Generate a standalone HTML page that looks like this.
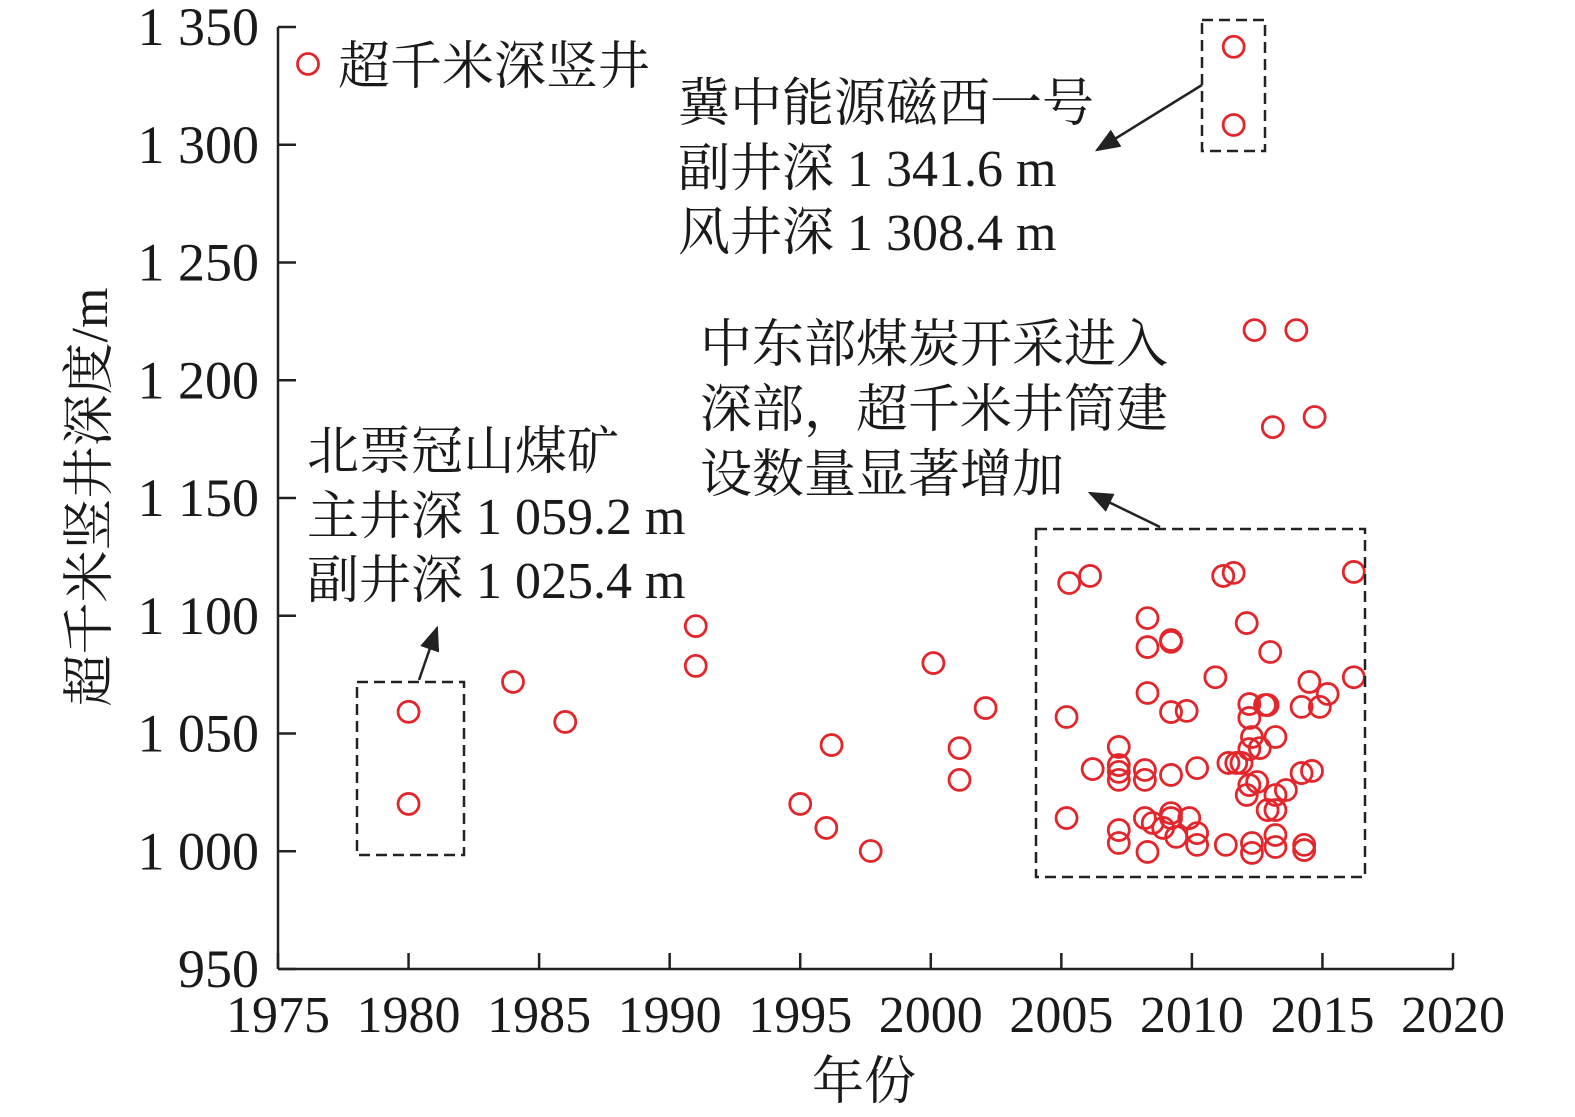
<!DOCTYPE html>
<html><head><meta charset="utf-8"><style>
html,body{margin:0;padding:0;background:#fff;}
svg text{font-family:"Liberation Serif","Noto Serif CJK SC",serif;fill:#1a1a1a;}
</style></head><body>
<svg id="chart" width="1575" height="1112" viewBox="0 0 1575 1112" xmlns="http://www.w3.org/2000/svg">
<g id="axes"></g>
<g id="marks"></g>
<g id="annot">
  <circle cx="308" cy="64" r="10.5" fill="none" stroke="#e2262b" stroke-width="2.8"/>
  <text x="338" y="84" font-size="52">超千米深竖井</text>
  <rect x="1202" y="20" width="63" height="131" fill="none" stroke="#222" stroke-width="2.5" stroke-dasharray="11,6"/>
  <rect x="357" y="682" width="107" height="173" fill="none" stroke="#222" stroke-width="2.5" stroke-dasharray="11,6"/>
  <rect x="1036" y="529" width="329" height="348" fill="none" stroke="#222" stroke-width="2.5" stroke-dasharray="11,6"/>
  <defs><marker id="ah" markerWidth="10" markerHeight="8" refX="9" refY="4" orient="auto"><path d="M0,0 L10,4 L0,8 z" fill="#222"/></marker></defs>
  <line x1="1202" y1="85" x2="1097" y2="150" stroke="#222" stroke-width="2.5" marker-end="url(#ah)"/>
  <line x1="419" y1="680" x2="437" y2="628" stroke="#222" stroke-width="2.5" marker-end="url(#ah)"/>
  <line x1="1160" y1="527" x2="1090" y2="493" stroke="#222" stroke-width="2.5" marker-end="url(#ah)"/>
  <text font-size="52">
    <tspan x="678" y="121">冀中能源磁西一号</tspan>
    <tspan x="678" y="186">副井深 1 341.6 m</tspan>
    <tspan x="678" y="250">风井深 1 308.4 m</tspan>
  </text>
  <text font-size="52">
    <tspan x="700" y="362">中东部煤炭开采进入</tspan>
    <tspan x="700" y="427">深部，超千米井筒建</tspan>
    <tspan x="700" y="492">设数量显著增加</tspan>
  </text>
  <text font-size="52">
    <tspan x="307" y="469">北票冠山煤矿</tspan>
    <tspan x="307" y="534">主井深 1 059.2 m</tspan>
    <tspan x="307" y="598">副井深 1 025.4 m</tspan>
  </text>
</g>
</svg>
<script>
const years = [1980,1980,1984,1986,1991,1991,1995,1996,1996.2,1997.7,2000.1,2001.1,2001.1,2002.1,2011.6,2011.6,2012.4,2014,2013.1,2014.7,
2005.3,2006.1,2011.2,2011.6,2016.2,2008.3,2012.1,2008.3,2009.2,2009.2,2013.0,2010.9,2016.2,2014.5,2015.2,2008.3,2009.2,2009.8,2005.2,2012.2,2012.2,2012.8,2012.9,2014.2,2014.9,
2007.2,2012.3,2013.2,2012.2,2012.6,2006.2,2007.2,2007.2,2007.2,2008.2,2008.2,2009.2,2010.2,2011.4,2011.7,2011.9,2012.1,2012.2,2012.5,2013.2,2013.6,2012.9,2013.2,2014.2,2014.6,
2005.2,2007.2,2007.2,2008.2,2008.5,2008.9,2009.2,2009.2,2009.4,2009.9,2010.2,2010.2,2008.3,2011.3,2012.3,2012.3,2013.2,2013.2,2014.3,2014.3];
const depths = [1059.2,1020.1,1071.9,1054.9,1095.6,1078.7,1020.1,1009.9,1045.1,1000.1,1079.9,1043.8,1030.3,1060.8,1341.6,1308.4,1221.3,1221.3,1180.1,1184.4,
1113.9,1116.9,1116.9,1118.2,1118.6,1099.0,1096.9,1086.7,1089.7,1088.9,1084.6,1073.9,1073.9,1071.9,1066.8,1067.2,1059.1,1059.6,1057.0,1062.5,1056.6,1062.1,1062.1,1061.3,1061.3,
1044.3,1048.5,1048.5,1043.4,1043.8,1034.9,1036.6,1033.7,1030.3,1034.5,1030.3,1032.4,1035.3,1037.5,1037.5,1037.5,1023.9,1028.1,1029.4,1023.9,1026.0,1017.5,1017.5,1033.2,1034.1,
1014.1,1009.0,1003.5,1014.1,1012.0,1009.9,1016.2,1014.1,1006.1,1014.1,1007.7,1002.7,999.7,1002.7,1003.5,999.3,1006.9,1001.8,1002.7,1000.5];
const xTicks = [1975,1980,1985,1990,1995,2000,2005,2010,2015,2020];
const yTicks = [950,1000,1050,1100,1150,1200,1250,1300,1350];
const yTickLabels = ["950","1 000","1 050","1 100","1 150","1 200","1 250","1 300","1 350"];

const X0=278,X1=1453,Y0=969,Y1=27;
const xs = v => X0 + (v-1975)/(2020-1975)*(X1-X0);
const ys = v => Y0 - (v-950)/(1350-950)*(Y0-Y1);
const NS="http://www.w3.org/2000/svg";
function mk(tag, attrs, parent){const e=document.createElementNS(NS,tag);for(const k in attrs)e.setAttribute(k,attrs[k]);parent.appendChild(e);return e;}
const axes=document.getElementById('axes'), marks=document.getElementById('marks');

let e=mk('line',{x1:X0,y1:Y0,x2:X1,y2:Y0,stroke:'#222','stroke-width':2.5},axes);


e=mk('line',{x1:X0,y1:Y0,x2:X0,y2:Y1,stroke:'#222','stroke-width':2.5},axes);



xTicks.forEach(t=>{
  const x=xs(t);
  let l=mk('line',{x1:x,y1:Y0,x2:x,y2:Y0-16,stroke:'#222','stroke-width':2.5},axes);
  
  
  let tx=mk('text',{x:x,y:1032,'font-size':52,'text-anchor':'middle'},axes);
  tx.textContent=String(t);
  
  
});
yTicks.forEach((t,i)=>{
  const y=ys(t);
  let l=mk('line',{x1:X0,y1:y,x2:X0+18,y2:y,stroke:'#222','stroke-width':2.5},axes);
  
  
  let tx=mk('text',{x:259,y:y+18,'font-size':54,'text-anchor':'end'},axes);
  tx.textContent=yTickLabels[i];
  
  
});
let xt=mk('text',{x:864,y:1099,'font-size':52,'text-anchor':'middle'},axes);
xt.textContent='年份';


let yt=mk('text',{x:0,y:0,'font-size':52,'text-anchor':'middle',transform:'translate(107,497) rotate(-90)'},axes);
yt.textContent='超千米竖井深度/m';



years.forEach((yr,i)=>{
  const c=mk('circle',{cx:xs(yr),cy:ys(depths[i]),r:10.5,fill:'none',stroke:'#e2262b','stroke-width':2.8},marks);
  
  
});
</script>
</body></html>
